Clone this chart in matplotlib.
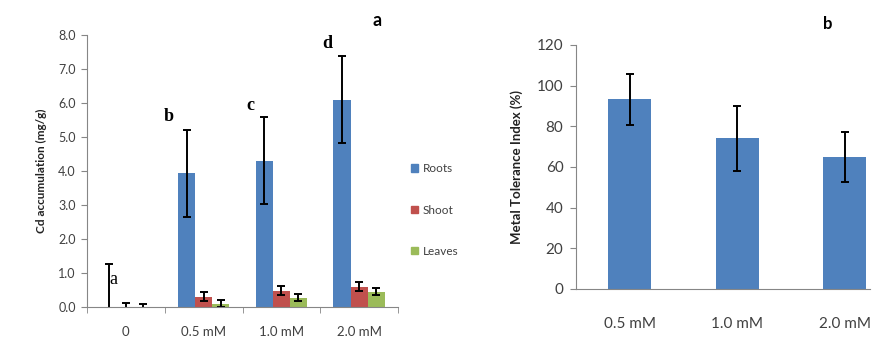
import matplotlib
matplotlib.use("Agg")
import matplotlib.pyplot as plt
import numpy as np
from matplotlib.patches import Patch

# ---- data: panel a ----
groups_a = ["0", "0.5 mM", "1.0 mM", "2.0 mM"]
roots = [0.0, 3.93, 4.30, 6.10]
roots_err = [1.27, 1.28, 1.28, 1.27]
shoot = [0.0, 0.30, 0.48, 0.60]
shoot_err = [0.12, 0.13, 0.14, 0.13]
leaves = [0.0, 0.10, 0.27, 0.45]
leaves_err = [0.10, 0.10, 0.10, 0.10]
sig_letters = ["a", "b", "c", "d"]
yticks_a = [0, 1, 2, 3, 4, 5, 6, 7, 8]

# ---- data: panel b ----
groups_b = ["0.5 mM", "1.0 mM", "2.0 mM"]
mti = [93.3, 74.1, 64.8]
mti_err = [12.6, 16.0, 12.3]
yticks_b = [0, 20, 40, 60, 80, 100, 120]

BLUE = "#4F81BD"
RED = "#C0504D"
GREEN = "#9BBB59"
AXC = "#868686"
TXT = "#404040"
SANS = ["Lato", "DejaVu Sans"]
SERIF = ["Liberation Serif", "DejaVu Serif"]

W, H = 883, 342
fig = plt.figure(figsize=(W / 100, H / 100), dpi=100)

def frac(x0, y0, x1, y1):
    return [x0 / W, (H - y1) / H, (x1 - x0) / W, (y1 - y0) / H]

# ---------------- panel a ----------------
ax = fig.add_axes(frac(87, 35, 398, 307))
x = np.arange(len(groups_a))
bw = 0.22
ekw = dict(ecolor="black", elinewidth=1.4, capsize=3, capthick=1.4)
ax.bar(x - bw, roots, bw, color=BLUE, yerr=roots_err, error_kw=ekw, label="Roots")
ax.bar(x, shoot, bw, color=RED, yerr=shoot_err, error_kw=ekw, label="Shoot")
ax.bar(x + bw, leaves, bw, color=GREEN, yerr=leaves_err, error_kw=ekw, label="Leaves")
ax.set_xlim(-0.5, len(groups_a) - 0.5)
ax.set_ylim(0, 8)
ax.set_yticks(yticks_a)
ax.set_yticklabels([f"{v:.1f}" for v in yticks_a], fontsize=9, family=SANS, color=TXT)
ax.set_xticks(x)
ax.set_xticklabels(groups_a, fontsize=9.5, family=SANS, color=TXT)
ax.set_xticks(np.arange(len(groups_a) + 1) - 0.5, minor=True)
ax.tick_params(axis="x", which="major", length=0, pad=14)
ax.tick_params(axis="x", which="minor", length=4, color=AXC, direction="out")
ax.tick_params(axis="y", length=4, color=AXC, direction="out", pad=4)
for s in ["top", "right"]:
    ax.spines[s].set_visible(False)
for s in ["left", "bottom"]:
    ax.spines[s].set_color(AXC)
ax.set_ylabel("Cd accumulation (mg/g)", fontsize=8.5, family=SANS, fontweight="bold",
              labelpad=8, color="#222222")

# significance letters (above root bars / error bars)
letter_pos = [(113, 280), (169, 117), (250, 105), (327, 43)]
for (px, py), t in zip(letter_pos, sig_letters):
    fig.text(px / W, 1 - py / H, t, fontsize=13, family=SERIF,
             fontweight="bold" if t != "a" else "normal", ha="center", va="center")

fig.text(377 / W, 1 - 21 / H, "a", fontsize=13, family=SANS, fontweight="bold",
         ha="center", va="center")

handles = [Patch(color=BLUE), Patch(color=RED), Patch(color=GREEN)]
leg = fig.legend(handles, ["Roots", "Shoot", "Leaves"], loc="center left",
                 bbox_to_anchor=(400 / W, 1 - 210 / H), frameon=False,
                 prop={"family": SANS, "size": 8.5}, handlelength=0.6, handleheight=0.6,
                 handletextpad=0.4, labelspacing=2.55)
for t in leg.get_texts():
    t.set_color(TXT)

# ---------------- panel b ----------------
ax2 = fig.add_axes(frac(576, 45, 870, 289))
xb = np.arange(len(groups_b))
ax2.bar(xb, mti, 0.4, color=BLUE, yerr=mti_err,
        error_kw=dict(ecolor="black", elinewidth=1.4, capsize=3, capthick=1.4))
ax2.set_xlim(-0.5, -0.5 + (870 - 576) / 107.5)
ax2.set_ylim(0, 120)
ax2.set_yticks(yticks_b)
ax2.set_yticklabels([str(v) for v in yticks_b], fontsize=11, family=SANS, color=TXT)
ax2.set_xticks(xb)
ax2.set_xticklabels(groups_b, fontsize=11, family=SANS, color=TXT)
ax2.tick_params(axis="x", length=0, pad=20)
ax2.tick_params(axis="y", length=4, color=AXC, direction="out", pad=5)
for s in ["top", "right"]:
    ax2.spines[s].set_visible(False)
for s in ["left", "bottom"]:
    ax2.spines[s].set_color(AXC)
ax2.set_ylabel("Metal Tolerance Index (%)", fontsize=9.5, family=SANS, fontweight="bold",
               labelpad=10, color="#222222")

fig.text(828 / W, 1 - 24 / H, "b", fontsize=12, family=SANS, fontweight="bold",
         ha="center", va="center")

fig.savefig("out.png", dpi=100)
